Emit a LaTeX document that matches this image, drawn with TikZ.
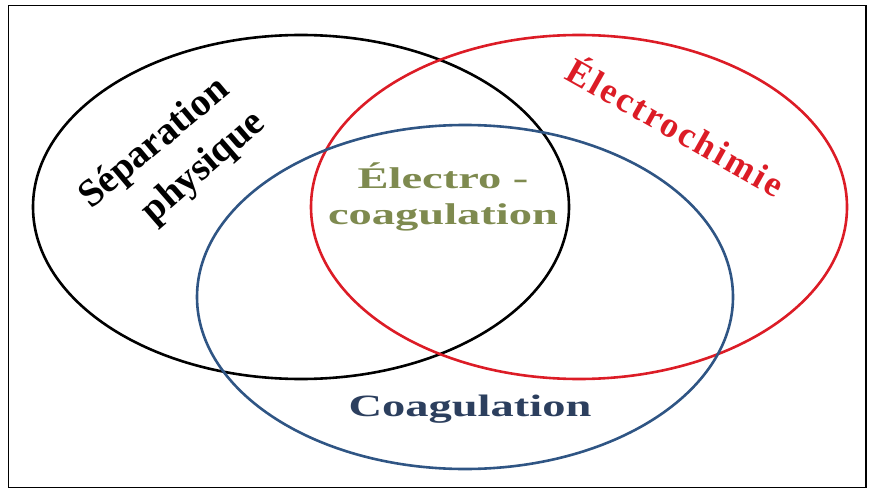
\documentclass[tikz,border=0pt]{standalone}
\usepackage{fontspec}
\setmainfont{Liberation Serif}
\usepackage{tikz}
\definecolor{vennred}{HTML}{DC1C26}
\definecolor{vennblue}{HTML}{2F5584}
\definecolor{coagblue}{HTML}{2C3F5E}
\definecolor{electroolive}{HTML}{7E8A4F}

\begin{document}
\begin{tikzpicture}[x=1pt, y=-1pt, font=\bfseries,
  vennlabel/.style={inner sep=0pt, align=center}]
  \def\rx{268pt}
  \def\ry{172pt}
  \useasboundingbox (0,0) rectangle (869,489);
  \draw[line width=1.4pt] (8.5,5.8) rectangle (866,487.5);
  % the three sets
  \draw[black, line width=2.6pt] (301,207) ellipse [x radius=\rx, y radius=\ry];
  \draw[vennred, line width=2.6pt] (579,207) ellipse [x radius=\rx, y radius=\ry];
  \draw[vennblue, line width=2.6pt] (465,297) ellipse [x radius=\rx, y radius=\ry];
  % labels
  \node[vennlabel, rotate=40, font=\bfseries\fontsize{39}{44}\selectfont] (sep) at (155,144) {Séparation};
  \node[vennlabel, rotate=41, font=\bfseries\fontsize{39}{44}\selectfont] (phys) at (204,168) {physique};
  \node[vennlabel, rotate=-29.4, text=vennred,
    font=\bfseries\fontsize{36}{40}\selectfont\addfontfeatures{LetterSpace=7}] (elec) at (677,125) {Électrochimie};
  \node[vennlabel, xscale=1.55, text=electroolive,
    font=\bfseries\fontsize{30}{36.7}\selectfont] (ecoag) at (443,197) {Électro -\\coagulation};
  \node[vennlabel, xscale=1.5, text=coagblue,
    font=\bfseries\fontsize{31}{37}\selectfont] (coag) at (470,409) {Coagulation};
\end{tikzpicture}
\end{document}
